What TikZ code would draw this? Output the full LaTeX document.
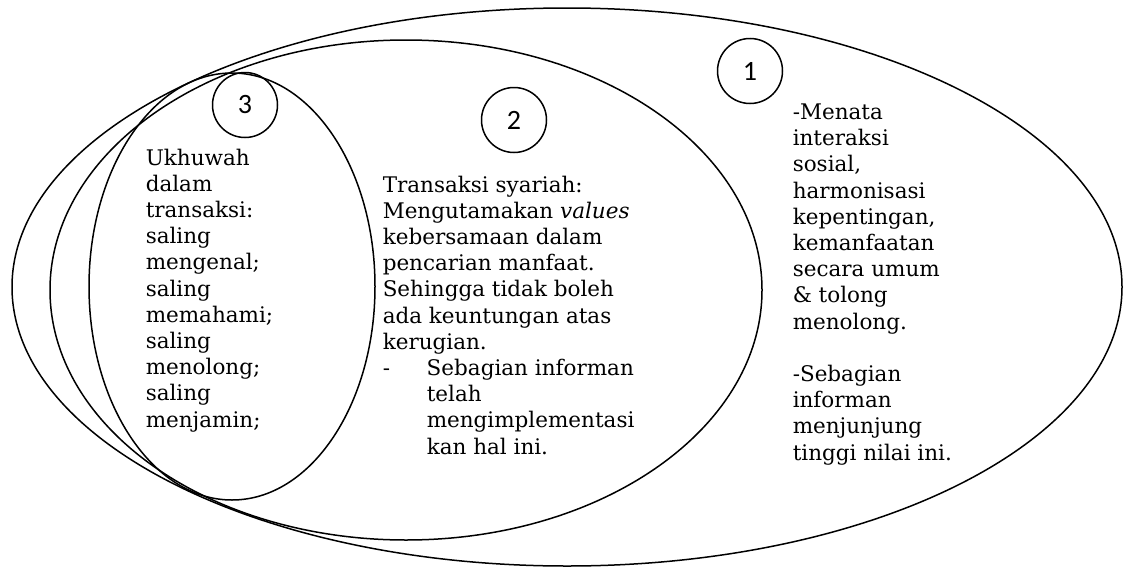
\documentclass[tikz,border=0pt]{standalone}
\usepackage{fontspec}
\setmainfont{DejaVu Serif}
\newfontfamily\numfont{Carlito}
\usetikzlibrary{shapes.geometric,positioning}

\begin{document}
\begin{tikzpicture}
      [ x=1pt, y=-1pt, line width=1.5pt,
        ring/.style={draw, ellipse, inner sep=0pt},
        num/.style={draw, circle, minimum size=65pt, inner sep=0pt,
                    font=\numfont\fontsize{28}{30}\selectfont},
        txt/.style={align=left, inner sep=0pt, anchor=base west,
                    font=\fontsize{21.5}{26.2}\selectfont}
      ]
      \useasboundingbox (0,0) rectangle (1124,570);

      % the three nested fields
      \node[ring, minimum width=1110pt, minimum height=558pt] (field1) at (567,287)   {};
      \node[ring, minimum width=712pt,  minimum height=500pt] (field2) at (406,290)   {};
      \node[ring, minimum width=286pt,  minimum height=427pt] (field3) at (232,286.5) {};

      % numbers
      \node[num] (n1) at (750,71)  {1};
      \node[num] (n2) at (514,120) {2};
      \node[num] (n3) at (245,105) {3};

      % texts (placed at the baseline of their last line)
      \node[txt] (t3) at (145,427) {Ukhuwah\\ dalam\\ transaksi:\\ saling\\ mengenal;\\ saling\\
                                    memahami;\\ saling\\ menolong;\\ saling\\ menjamin;};
      \node[txt] (t2) at (382,454) {Transaksi syariah:\\ Mengutamakan \textit{values}\\
                                    kebersamaan dalam\\ pencarian manfaat.\\ Sehingga tidak boleh\\
                                    ada keuntungan atas\\ kerugian.\\
                                    \makebox[44pt][l]{-}Sebagian informan\\
                                    \hspace*{44pt}telah\\ \hspace*{44pt}mengimplementasi\\
                                    \hspace*{44pt}kan hal ini.};
      \node[txt] (t1) at (792,460) {-Menata\\ interaksi\\ sosial,\\ harmonisasi\\ kepentingan,\\
                                    kemanfaatan\\ secara umum\\ \& tolong\\ menolong.\\[26.2pt]
                                    -Sebagian\\ informan\\ menjunjung\\ tinggi nilai ini.};
    \end{tikzpicture}
\end{document}
